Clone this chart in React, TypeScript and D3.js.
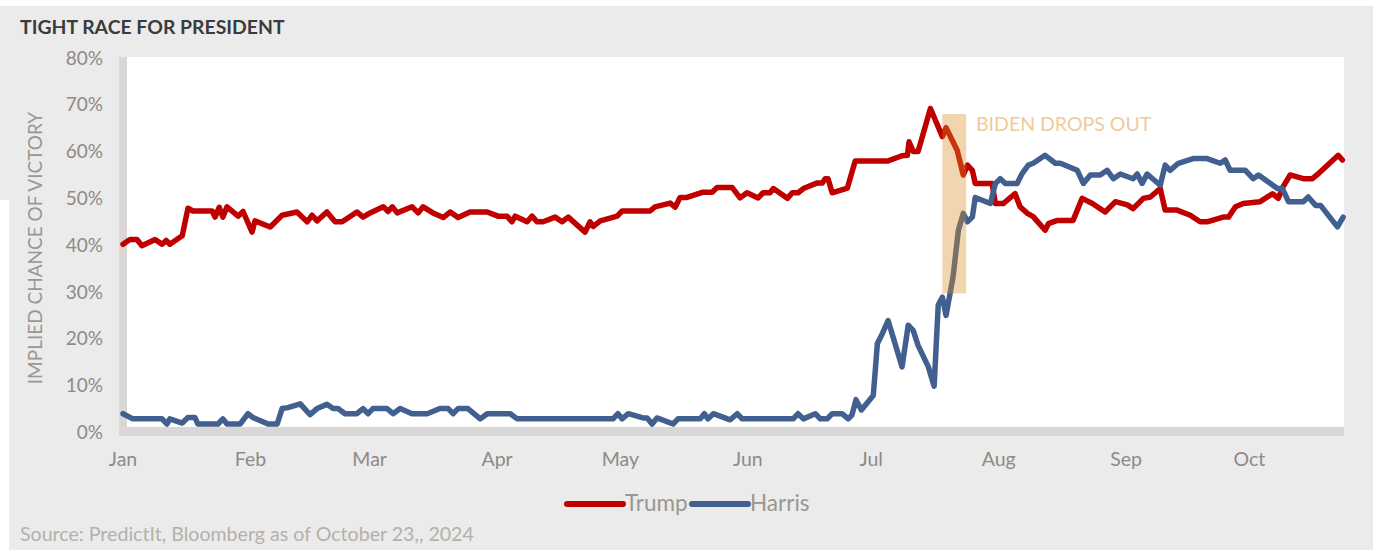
import React from 'react';
import * as d3 from 'd3';

// ---------- DATA ----------
const monthLabels = ['Jan', 'Feb', 'Mar', 'Apr', 'May', 'Jun', 'Jul', 'Aug', 'Sep', 'Oct'];
const yTickValues = [0, 10, 20, 30, 40, 50, 60, 70, 80];
const seriesNames = ['Trump', 'Harris'];

// days since Jan 1 2024
const trumpDays = [0, 1.7, 3.4, 4.6, 7.8, 9.5, 10.5, 11.4, 14.4, 15.8, 17.0, 21.7, 22.4, 23.4, 24.3, 25.3, 28.0, 29.2, 31.4, 32.1,
  35.8, 38.7, 42.3, 44.8, 46.0, 47.2, 49.6, 51.6, 53.3, 56.9, 58.4, 60.1, 63.3, 64.5, 65.5, 66.7, 70.3, 71.8, 73.0, 75.4,
  77.9, 79.6, 81.5, 84.4, 88.6, 91.2, 93.4, 94.6, 95.4, 98.3, 99.5, 100.7, 102.2, 105.1, 106.8, 108.3, 112.4, 113.6, 114.4, 116.1,
  120.2, 121.4, 128.2, 129.4, 133.1, 134.3, 135.5, 137.2, 140.9, 143.3, 144.5, 148.2, 150.1, 151.8, 154.5, 155.7, 157.4, 158.2, 161.6, 162.8,
  164.2, 165.5, 168.9, 170.1, 170.8, 171.5, 172.5, 176.2, 178.1, 186.1, 189.5, 190.8, 191.2, 192.2, 193.4, 196.4, 199.3, 200.2, 201.7, 202.9,
  204.4, 205.4, 206.6, 207.3, 211.4, 212.2, 214.1, 217.0, 218.2, 220.0, 221.4, 224.3, 225.1, 227.3, 231.1, 233.3, 235.8, 238.9, 241.4, 244.3,
  245.7, 248.2, 249.9, 252.3, 253.5, 256.4, 259.6, 262.0, 263.7, 267.6, 268.9, 270.6, 272.5, 276.6, 279.6, 281.0, 282.2, 283.9, 287.1, 289.3,
  290.8, 295.6, 296.6];
const trumpValues = [40, 41, 41, 39.7, 41, 40, 40.8, 40, 41.8, 47.7, 47.1, 47.1, 45.8, 47.9, 45.8, 48, 46, 47, 42.6, 45,
  43.7, 46.2, 46.9, 44.8, 46.2, 45.0, 46.9, 44.8, 44.8, 46.9, 45.8, 46.7, 48, 47, 48, 46.7, 48, 46.7, 48, 46.7,
  45.7, 46.9, 45.7, 46.9, 46.9, 46, 46, 44.8, 46, 44.8, 46, 44.8, 44.8, 45.8, 44.8, 45.8, 42.6, 44.8, 43.8, 45,
  46, 47.1, 47.1, 48, 48.8, 47.9, 50, 50, 51.1, 51.1, 52.1, 52.1, 49.9, 51, 49.9, 51, 51, 51.9, 49.8, 51,
  51, 51.9, 53.1, 53.1, 54, 54, 51, 52, 57.8, 57.8, 58.9, 59, 61.9, 59.8, 59.8, 69, 63, 64.9, 62.2, 60.1,
  54.8, 56.9, 55.8, 53, 53, 48.7, 48.7, 50.8, 48, 46.6, 45.9, 43, 44.4, 45.1, 45.1, 49.8, 48.7, 46.9, 49.1, 48.4,
  47.6, 49.8, 50.1, 51.9, 47.3, 47.3, 46.2, 44.8, 44.8, 45.8, 45.8, 48, 48.7, 49.1, 50.8, 49.8, 52.3, 54.8, 54, 54,
  55.1, 59, 58];

const harrisDays = [0, 2.4, 9.5, 10.7, 11.4, 14.4, 15.8, 17.5, 18.2, 23.1, 24.3, 25.3, 28.5, 30.4, 31.6, 35.3, 37.5, 38.7, 40.1, 43.1,
  45.5, 47.2, 49.6, 51.1, 52.3, 54.0, 56.9, 58.4, 59.6, 60.8, 64.2, 65.7, 67.4, 70.3, 74.0, 77.1, 79.1, 80.3, 81.5, 83.9,
  86.9, 88.6, 94.2, 95.9, 119.2, 120.4, 121.4, 122.9, 126.5, 127.5, 128.7, 129.9, 133.8, 135.0, 140.4, 141.4, 142.3, 143.6, 147.7, 149.4,
  150.6, 163.0, 164.2, 165.5, 168.4, 169.6, 171.3, 172.5, 174.9, 176.4, 177.3, 178.3, 179.6, 182.5, 183.5, 184.7, 186.1, 189.5, 191.0, 192.2,
  193.4, 195.9, 197.3, 198.3, 199.3, 200.2, 201.9, 203.2, 204.4, 205.4, 206.6, 207.3, 211.0, 212.2, 213.4, 214.6, 217.5, 218.7, 220.2, 221.4,
  224.3, 226.8, 228.0, 232.1, 233.6, 235.3, 237.7, 239.4, 240.9, 242.6, 245.7, 246.7, 247.9, 249.1, 252.3, 253.5, 254.7, 256.7, 260.3, 263.7,
  266.9, 268.1, 269.3, 273.0, 274.9, 276.2, 279.1, 280.8, 282.0, 283.5, 287.1, 288.3, 290.1, 291.3, 295.4, 296.8];
const harrisValues = [3.8, 2.7, 2.7, 1.6, 2.7, 1.8, 3.0, 3.0, 1.6, 1.6, 2.7, 1.6, 1.6, 3.8, 3.0, 1.6, 1.6, 4.9, 5.1, 5.9,
  3.6, 4.9, 5.8, 4.9, 4.9, 3.8, 3.8, 4.9, 3.8, 4.9, 4.9, 3.8, 4.9, 3.8, 3.8, 4.9, 4.9, 3.8, 4.9, 4.9,
  2.7, 3.8, 3.8, 2.7, 2.7, 3.8, 2.7, 3.8, 2.9, 2.9, 1.6, 2.9, 1.6, 2.7, 2.7, 3.8, 2.7, 3.8, 2.5, 3.8,
  2.7, 2.7, 3.8, 2.7, 3.8, 2.7, 2.7, 3.8, 3.8, 2.7, 3.5, 6.8, 4.6, 7.7, 18.8, 20.9, 23.7, 13.8, 22.7, 21.6,
  18.4, 13.8, 9.7, 27, 28.7, 24.8, 33, 43, 46.6, 44.8, 45.8, 50, 48.7, 53, 54, 53, 53, 55.1, 56.9, 57.3,
  59, 57.3, 57.3, 55.8, 53, 54.8, 54.8, 55.8, 54, 55, 54, 55, 53, 55, 52.6, 56.9, 55.8, 57.3, 58.3, 58.3,
  57.3, 58, 55.8, 55.8, 54, 54.8, 53, 51.9, 51.9, 49.1, 49.1, 50.1, 48.3, 48.3, 43.7, 45.8];

const annotationText = 'BIDEN DROPS OUT';
const annotationDays = [199.3, 205.1];
const annotationValues = [29.5, 67.8];

const titleText = 'TIGHT RACE FOR PRESIDENT';
const yAxisTitle = 'IMPLIED CHANCE OF VICTORY';
const sourceText = 'Source: PredictIt, Bloomberg as of October 23,, 2024';

// ---------- STYLE ----------
const W = 1375;
const H = 550;
const FONT = 'Lato, "Open Sans", sans-serif';
const COLORS = { Trump: '#c00000', Harris: '#41608f' };
const TICK_COLOR = '#8f8a85';

const START = new Date(2024, 0, 1);
const dayToDate = (d: number) => new Date(START.getTime() + d * 86400000);

export default function App() {
  const x = d3.scaleTime().domain([dayToDate(0), dayToDate(297)]).range([123, 1344]);
  const y = d3.scaleLinear().domain([0, 80]).range([431.5, 57]);

  const line = d3
    .line<[number, number]>()
    .x((d) => x(dayToDate(d[0])))
    .y((d) => y(d[1]));

  const trump: [number, number][] = trumpDays.map((d, i) => [d, trumpValues[i]]);
  const harris: [number, number][] = harrisDays.map((d, i) => [d, harrisValues[i]]);

  const monthDates = monthLabels.map((_, i) => new Date(2024, i, 1));

  const x0 = x(dayToDate(0));
  const xEnd = x.range()[1];
  const y0 = y(0);
  const yTop = y(80);

  return (
    <svg
      width={W}
      height={H}
      style={{ position: 'absolute', left: 0, top: 0, display: 'block' }}
      fontFamily={FONT}
    >
      <rect x={0} y={0} width={W} height={H} fill="#ffffff" />
      <rect x={0} y={6} width={1373} height={H - 6} fill="#ebebeb" />
      <rect x={0} y={200} width={9} height={H - 200} fill="#ffffff" />

      {/* title */}
      <text x={20} y={34} fontSize={19.4} fontWeight={700} fill="#3b3b3b">
        {titleText}
      </text>

      {/* plot area */}
      <rect x={x0} y={yTop} width={xEnd - x0} height={y0 - yTop} fill="#ffffff" />

      {/* axis bars */}
      <line x1={x0} x2={x0} y1={yTop} y2={y0 + 4.5} stroke="#d9d8d6" strokeWidth={8} />
      <line x1={x0 - 4} x2={xEnd} y1={y0} y2={y0} stroke="#d9d8d6" strokeWidth={9} />

      {/* y ticks */}
      {yTickValues.map((v) => (
        <text
          key={v}
          x={103}
          y={y(v)}
          textAnchor="end"
          dominantBaseline="central"
          fontSize={19}
          fill={TICK_COLOR}
        >
          {v}%
        </text>
      ))}

      {/* x ticks */}
      {monthDates.map((d, i) => (
        <text key={i} x={x(d)} y={466} textAnchor="middle" fontSize={19.5} fill={TICK_COLOR}>
          {monthLabels[i]}
        </text>
      ))}

      {/* y axis title */}
      <text
        transform={`translate(42, 248) rotate(-90)`}
        textAnchor="middle"
        fontSize={19}
        fill="#9b9690"
      >
        {yAxisTitle}
      </text>

      {/* lines */}
      <path
        d={line(trump) || ''}
        fill="none"
        stroke={COLORS.Trump}
        strokeWidth={5.5}
        strokeLinejoin="round"
        strokeLinecap="round"
      />
      <path
        d={line(harris) || ''}
        fill="none"
        stroke={COLORS.Harris}
        strokeWidth={5.5}
        strokeLinejoin="round"
        strokeLinecap="round"
      />

      {/* annotation */}
      <rect
        x={x(dayToDate(annotationDays[0]))}
        y={y(annotationValues[1])}
        width={x(dayToDate(annotationDays[1])) - x(dayToDate(annotationDays[0]))}
        height={y(annotationValues[0]) - y(annotationValues[1])}
        fill="#d68d24"
        fillOpacity={0.37}
      />
      <text x={976} y={131} fontSize={19.5} fill="#efcb9b">
        {annotationText}
      </text>

      {/* legend */}
      {seriesNames.map((name, i) => {
        const lx = [567, 692][i];
        return (
          <g key={name}>
            <line
              x1={lx}
              x2={lx + 56}
              y1={504}
              y2={504}
              stroke={COLORS[name as 'Trump' | 'Harris']}
              strokeWidth={6}
              strokeLinecap="round"
            />
            <text x={lx + 58} y={511} fontSize={22.5} fill="#9b9690">
              {name}
            </text>
          </g>
        );
      })}

      {/* source */}
      <text x={20} y={541} fontSize={19.6} fill="#b5b0aa">
        {sourceText}
      </text>
    </svg>
  );
}
